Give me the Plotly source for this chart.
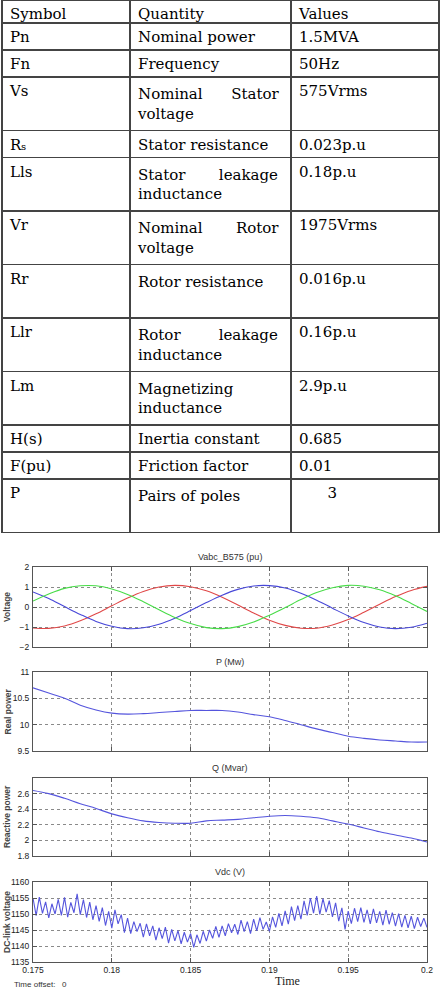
import numpy as np
import plotly.graph_objects as go

# ---- table data ----
header = ["Symbol", "Quantity", "Values"]
symbols = ["Pn", "Fn", "Vs", "R\u209b", "Lls", "Vr", "Rr", "Llr", "Lm",
           "H(s)", "F(pu)", "P"]
quantities = ["Nominal power",
              "Frequency",
              "Nominal\u00a0\u00a0\u00a0\u00a0\u00a0\u00a0Stator<br>voltage",
              "Stator resistance",
              "Stator\u00a0\u00a0\u00a0\u00a0\u00a0\u00a0\u00a0leakage<br>inductance",
              "Nominal\u00a0\u00a0\u00a0\u00a0\u00a0\u00a0\u00a0Rotor<br>voltage",
              "Rotor resistance<br>\u00a0",
              "Rotor\u00a0\u00a0\u00a0\u00a0\u00a0\u00a0\u00a0\u00a0leakage<br>inductance",
              "Magnetizing<br>inductance",
              "Inertia constant",
              "Friction factor",
              "Pairs of poles<br>\u00a0"]
values = ["1.5MVA", "50Hz", "575Vrms", "0.023p.u", "0.18p.u", "1975Vrms",
          "0.016p.u", "0.16p.u", "2.9p.u", "0.685", "0.01",
          "\u00a0\u00a0\u00a0\u00a0\u00a0\u00a03"]

# ---- simulation traces ----
t_slow = [0.175, 0.176, 0.177, 0.178, 0.179, 0.180, 0.181, 0.182, 0.183,
          0.184, 0.185, 0.186, 0.187, 0.188, 0.189, 0.190, 0.191, 0.192,
          0.193, 0.194, 0.195, 0.196, 0.197, 0.198, 0.199, 0.200]

va = [-1.05, -1.07, -0.95, -0.69, -0.34, 0.06, 0.45, 0.78, 1.00, 1.08, 1.01,
      0.81, 0.49, 0.10, -0.30, -0.66, -0.92, -1.06, -1.06, -0.90, -0.63,
      -0.26, 0.14, 0.52, 0.83, 1.03]
vb = [0.75, 0.42, 0.02, -0.37, -0.72, -0.96, -1.08, -1.04, -0.86, -0.56,
      -0.18, 0.22, 0.59, 0.88, 1.05, 1.07, 0.95, 0.69, 0.34, -0.06, -0.45,
      -0.78, -1.00, -1.08, -1.01, -0.81]
vc = [0.30, 0.65, 0.93, 1.06, 1.06, 0.90, 0.63, 0.26, -0.14, -0.52, -0.83,
      -1.03, -1.08, -0.98, -0.75, -0.41, -0.03, 0.37, 0.72, 0.96, 1.08, 1.04,
      0.86, 0.56, 0.18, -0.22]

p_mw = [10.70, 10.60, 10.50, 10.37, 10.28, 10.22, 10.20, 10.21, 10.23, 10.25,
        10.27, 10.27, 10.27, 10.24, 10.19, 10.15, 10.08, 10.00, 9.92, 9.85,
        9.78, 9.74, 9.71, 9.69, 9.67, 9.67]
q_mvar = [2.64, 2.60, 2.54, 2.47, 2.41, 2.34, 2.29, 2.25, 2.23, 2.22, 2.22,
          2.25, 2.26, 2.27, 2.29, 2.31, 2.32, 2.31, 2.29, 2.25, 2.21, 2.16,
          2.11, 2.07, 2.03, 1.98]

vdc = [1155.0, 1149.5, 1155.3, 1150.2, 1153.8, 1148.8, 1153.2, 1150.0, 1154.6, 1149.6,
       1155.2, 1149.0, 1153.6, 1150.4, 1156.3, 1149.8, 1154.5, 1148.9, 1153.7, 1148.2,
       1152.6, 1147.7, 1152.0, 1146.4, 1150.8, 1145.6, 1151.3, 1146.9, 1149.8, 1144.2,
       1148.7, 1143.9, 1147.6, 1144.5, 1147.1, 1142.8, 1146.9, 1143.2, 1146.3, 1141.8,
       1145.7, 1142.3, 1145.9, 1140.9, 1145.2, 1141.6, 1144.8, 1140.7, 1144.3, 1141.2,
       1143.9, 1139.6, 1143.5, 1140.8, 1144.6, 1141.5, 1145.0, 1142.4, 1146.1, 1142.7,
       1146.3, 1143.2, 1147.0, 1144.1, 1146.8, 1143.6, 1148.1, 1144.5, 1147.6, 1143.9,
       1148.4, 1144.7, 1148.9, 1145.2, 1147.5, 1144.6, 1149.1, 1145.8, 1150.2, 1146.3,
       1151.0, 1146.8, 1152.3, 1147.9, 1152.6, 1148.4, 1154.1, 1149.6, 1155.0, 1150.3,
       1155.6, 1149.9, 1154.8, 1150.6, 1154.2, 1149.1, 1153.5, 1147.8, 1151.9, 1145.2,
       1150.9, 1147.0, 1151.8, 1147.6, 1152.0, 1147.4, 1151.3, 1146.9, 1151.6, 1147.2,
       1150.8, 1146.5, 1151.2, 1146.8, 1150.4, 1146.2, 1150.1, 1145.9, 1149.6, 1145.7,
       1149.3, 1145.4, 1149.0, 1146.1, 1148.7, 1145.8]
t_fast = np.round(np.linspace(0.175, 0.2, len(vdc)), 5)

panel_titles = ["Vabc_B575 (pu)", "P (Mw)", "Q (Mvar)", "Vdc (V)"]
axis_titles = ["Voltage", "Real power", "Reactive power", "DC-link voltage"]
time_ticks = [0.175, 0.18, 0.185, 0.19, 0.195, 0.2]

W, H = 442, 996
# panel extents in pixels (top, bottom)
panels = [(567, 647), (672, 751), (778, 856), (882, 962)]
x_px = (33, 427)

fig = go.Figure()

tbl_font = dict(family="DejaVu Serif", size=15, color="black")
fig.add_trace(go.Table(
    domain=dict(x=[2 / W, 439 / W], y=[1 - 545 / H, 1.0]),
    columnwidth=[128, 161, 148],
    header=dict(values=header, align="left", height=23, font=tbl_font,
                fill_color="white", line=dict(color="#444", width=1.5)),
    cells=dict(values=[symbols, quantities, values], align="left", height=27,
               font=tbl_font, fill_color="white", line=dict(color="#444", width=1.5)),
))

line_blue = "#5555dd"
series = [
    [(va, "#e04848"), (vb, "#4848d8"), (vc, "#48dc48")],
    [(p_mw, line_blue)],
    [(q_mvar, line_blue)],
    [(vdc, line_blue)],
]

y_ranges = [[-2, 2], [9.5, 11], [1.8, 2.8], [1135, 1160]]
y_ticks = [[-2, -1, 0, 1, 2], [9.5, 10, 10.5, 11], [1.8, 2, 2.2, 2.4, 2.6],
           [1135, 1140, 1145, 1150, 1155, 1160]]

tick_font = dict(family="Liberation Sans Narrow, Liberation Sans", size=8.5, color="#222")

for i, (top, bot) in enumerate(panels):
    n = i + 1
    xa = "x" if n == 1 else "x%d" % n
    ya = "y" if n == 1 else "y%d" % n
    for ys, col in series[i]:
        xs = t_fast if i == 3 else t_slow
        fig.add_trace(go.Scatter(x=xs, y=ys, mode="lines", xaxis=xa, yaxis=ya,
                                 line=dict(color=col, width=1.1,
                                           shape="linear" if i == 3 else "spline"),
                                 showlegend=False, hoverinfo="skip"))
    dom_y = [1 - bot / H, 1 - top / H]
    fig.layout["xaxis" if n == 1 else "xaxis%d" % n] = dict(
        domain=[x_px[0] / W, x_px[1] / W], anchor=ya, range=[0.175, 0.2],
        tickvals=time_ticks, ticktext=["0.175", "0.18", "0.185", "0.19", "0.195", "0.2"],
        showticklabels=(i == 3), showgrid=True, griddash="dot", gridcolor="#8a8a8a",
        gridwidth=1, showline=True, linecolor="#555", linewidth=1, mirror="ticks",
        ticks="inside", ticklen=4, tickcolor="#555", tickfont=tick_font, zeroline=False,
        automargin=False)
    fig.layout["yaxis" if n == 1 else "yaxis%d" % n] = dict(
        domain=dom_y, anchor=xa, range=y_ranges[i], tickvals=y_ticks[i],
        showgrid=True, griddash="dot", gridcolor="#8a8a8a", gridwidth=1,
        showline=True, linecolor="#555", linewidth=1, mirror="ticks",
        ticks="inside", ticklen=4, tickcolor="#555", tickfont=tick_font,
        ticklabelstandoff=1, zeroline=False, automargin=False)
    fig.add_annotation(text=panel_titles[i], xref="paper", yref="paper",
                       x=sum(x_px) / 2 / W, y=1 - (top - 3) / H, yanchor="bottom",
                       showarrow=False,
                       font=dict(family="Liberation Sans Narrow, Liberation Sans",
                                 size=9, color="#333"))
    fig.add_annotation(text="<b>%s</b>" % axis_titles[i], xref="paper", yref="paper",
                       x=7 / W, y=1 - (top + bot) / 2 / H, textangle=-90,
                       xanchor="center", yanchor="middle", showarrow=False,
                       font=dict(family="Liberation Sans", size=8.5, color="#444"))

fig.add_annotation(text="Time", xref="paper", yref="paper", x=287 / W, y=1 - 990 / H,
                   xanchor="center", showarrow=False,
                   font=dict(family="Liberation Serif", size=12, color="#222"))
fig.add_annotation(text="Time offset:   0", xref="paper", yref="paper", x=12 / W,
                   y=1 - 991 / H, xanchor="left", showarrow=False,
                   font=dict(family="Liberation Sans Narrow, Liberation Sans", size=8,
                             color="#333"))

fig.update_layout(width=W, height=H, margin=dict(l=0, r=0, t=0, b=0),
                  paper_bgcolor="white", plot_bgcolor="white", showlegend=False)

# drop the browser's default 8px body margin so the figure sits at the page corner
fig.write_html("out.html", config={"displayModeBar": False},
               post_script="document.body.style.margin='0';")
